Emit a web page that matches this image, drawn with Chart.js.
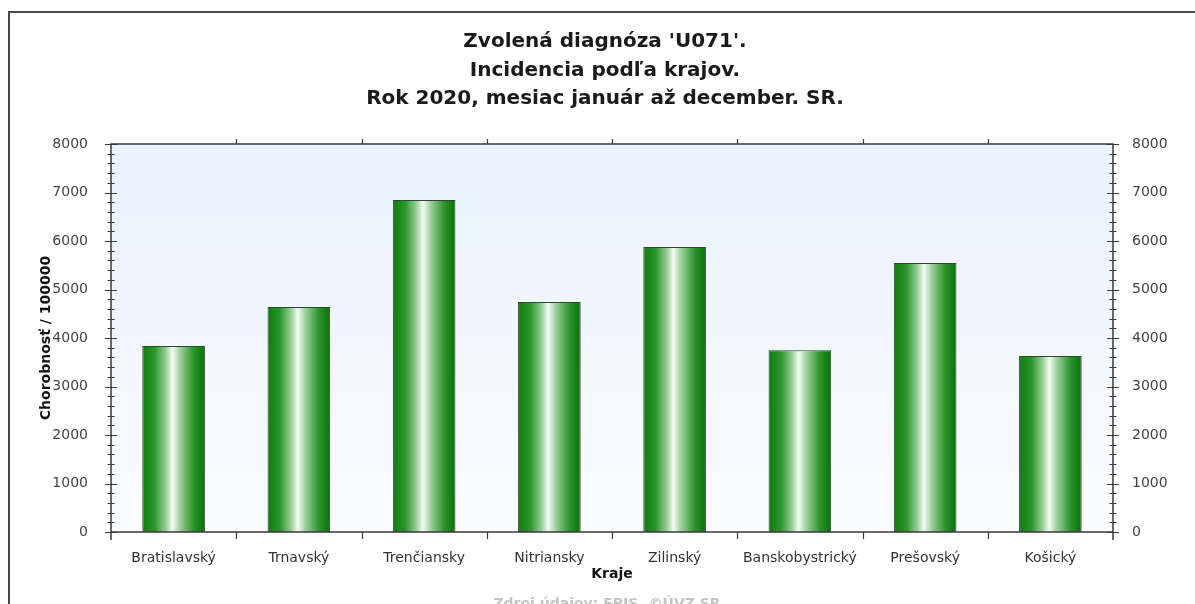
<!DOCTYPE html>
<html>
<head>
<meta charset="utf-8">
<script src="https://cdn.jsdelivr.net/npm/chart.js@4.4.1/dist/chart.umd.min.js"></script>
<style>
    html, body { margin: 0; padding: 0; background: #fff; }
    #wrap { position: relative; width: 1195px; height: 604px; }
</style>
</head>
<body>
<div id="wrap"><canvas id="chart" width="1195" height="604"></canvas></div>
<script>
// ── Data ─────────────────────────────────────────────
const REGIONS = ['Bratislavský', 'Trnavský', 'Trenčiansky', 'Nitriansky', 'Zilinský', 'Banskobystrický', 'Prešovský', 'Košický'];
const INCIDENCE = [3835, 4640, 6845, 4740, 5875, 3750, 5545, 3630];
const Y_MAX = 8000;
const Y_STEP = 1000;
const Y_MINOR = 200;
const TITLE_LINES = ["Zvolená diagnóza 'U071'.", 'Incidencia podľa krajov.', 'Rok 2020, mesiac január až december. SR.'];
const SOURCE = 'Zdroj údajov: EPIS, ©ÚVZ SR';

const FONT = "'DejaVu Sans', Verdana, sans-serif";
Chart.defaults.font.family = FONT;
Chart.defaults.font.size = 14;
Chart.defaults.color = '#333';

// green cylinder look, dark edges -> white centre
function barFill(c) {
    const chart = c.chart;
    const x = chart.scales.x;
    if (c.type !== 'data' || !chart.chartArea || !x) return '#2a8f2a';
    const cx = x.getPixelForValue(c.dataIndex);
    const w = (x.width / REGIONS.length) * 0.5;
    const g = chart.ctx.createLinearGradient(cx - w / 2, 0, cx + w / 2, 0);
    g.addColorStop(0, '#0f7c0f');
    g.addColorStop(0.2, '#2b972b');
    g.addColorStop(0.37, '#94cb94');
    g.addColorStop(0.48, '#f4fbf4');
    g.addColorStop(0.6, '#a0d1a0');
    g.addColorStop(0.82, '#2a942a');
    g.addColorStop(1, '#087008');
    return g;
}

// ── Frame: background, axes, ticks, titles ─────────────
const framePlugin = {
    id: 'frame',
    beforeDraw(chart) {
        const { ctx, chartArea: a } = chart;
        const g = ctx.createLinearGradient(0, a.top, 0, a.bottom);
        g.addColorStop(0, '#e9f2fd');
        g.addColorStop(1, '#fafcff');
        ctx.save();
        ctx.fillStyle = g;
        ctx.fillRect(a.left, a.top, a.right - a.left, a.bottom - a.top);
        ctx.restore();
    },
    afterDraw(chart) {
        const { ctx, chartArea: a } = chart;
        const x = chart.scales.x;
        const y = chart.scales.y;
        ctx.save();

        // axis box
        ctx.strokeStyle = '#3a3a3a';
        ctx.lineWidth = 1.5;
        ctx.beginPath();
        ctx.moveTo(a.left, a.bottom + 8); ctx.lineTo(a.left, a.top);
        ctx.lineTo(a.right, a.top); ctx.lineTo(a.right, a.bottom + 8);
        ctx.moveTo(a.left, a.bottom); ctx.lineTo(a.right, a.bottom);
        ctx.stroke();

        // y ticks, crossing both vertical axes
        ctx.lineWidth = 1.2;
        ctx.beginPath();
        for (let v = 0; v <= Y_MAX; v += Y_MINOR) {
            const py = Math.round(y.getPixelForValue(v)) + 0.5;
            const len = v % Y_STEP === 0 ? 6 : 3.5;
            [a.left, a.right].forEach(px => {
                ctx.moveTo(px - len, py);
                ctx.lineTo(px + len, py);
            });
        }
        // x ticks at category boundaries (top up, bottom down)
        for (let i = 1; i < REGIONS.length; i++) {
            const px = Math.round((x.getPixelForValue(i - 1) + x.getPixelForValue(i)) / 2) + 0.5;
            ctx.moveTo(px, a.top); ctx.lineTo(px, a.top - 5);
            ctx.moveTo(px, a.bottom); ctx.lineTo(px, a.bottom + 7);
        }
        ctx.stroke();

        // titles
        ctx.fillStyle = '#1a1a1a';
        ctx.font = 'bold 20px ' + FONT;
        ctx.textAlign = 'center';
        ctx.textBaseline = 'middle';
        TITLE_LINES.forEach((t, i) => ctx.fillText(t, 605, 42 + i * 28.5));

        // source note (cut at bottom edge)
        ctx.fillStyle = '#c4c4c4';
        ctx.font = 'bold 14px ' + FONT;
        ctx.textBaseline = 'alphabetic';
        ctx.fillText(SOURCE, 607, 608);

        // outer frame
        ctx.strokeStyle = '#4a4a4a';
        ctx.lineWidth = 2;
        ctx.beginPath();
        ctx.moveTo(9, 604); ctx.lineTo(9, 12); ctx.lineTo(1195, 12);
        ctx.stroke();
        ctx.restore();
    }
};

const plainTick = v => String(v);

new Chart(document.getElementById('chart'), {
    type: 'bar',
    data: {
        labels: REGIONS,
        datasets: [{
            label: 'Chorobnosť / 100000',
            data: INCIDENCE,
            backgroundColor: barFill,
            borderColor: '#3c3c3c',
            borderWidth: 1,
            barPercentage: 0.5,
            categoryPercentage: 1,
            yAxisID: 'y'
        }]
    },
    options: {
        responsive: false,
        animation: false,
        devicePixelRatio: 1,
        layout: { padding: { top: 144, left: 0, right: 0, bottom: 0 } },
        plugins: { legend: { display: false }, tooltip: { enabled: false }, title: { display: false } },
        scales: {
            x: {
                grid: { display: false },
                border: { display: false },
                ticks: { padding: 10, color: '#333', maxRotation: 0, autoSkip: false },
                title: { display: true, text: 'Kraje', color: '#111', font: { weight: 'bold', size: 14 }, padding: { top: 0, bottom: 21.6 } },
                afterFit: s => { s.height = 72; }
            },
            y: {
                position: 'left',
                min: 0, max: Y_MAX,
                grid: { display: false },
                border: { display: false },
                ticks: { stepSize: Y_STEP, padding: 15, color: '#444', callback: plainTick },
                title: { display: true, text: 'Chorobnosť / 100000', color: '#111', font: { weight: 'bold', size: 14 }, padding: { top: 37.6, bottom: 0 } },
                afterFit: s => { s.width = 111; }
            },
            y2: {
                position: 'right',
                min: 0, max: Y_MAX,
                grid: { display: false },
                border: { display: false },
                ticks: { stepSize: Y_STEP, padding: 11, color: '#444', callback: plainTick },
                afterFit: s => { s.width = 82; }
            }
        }
    },
    plugins: [framePlugin]
});
</script>
</body>
</html>
